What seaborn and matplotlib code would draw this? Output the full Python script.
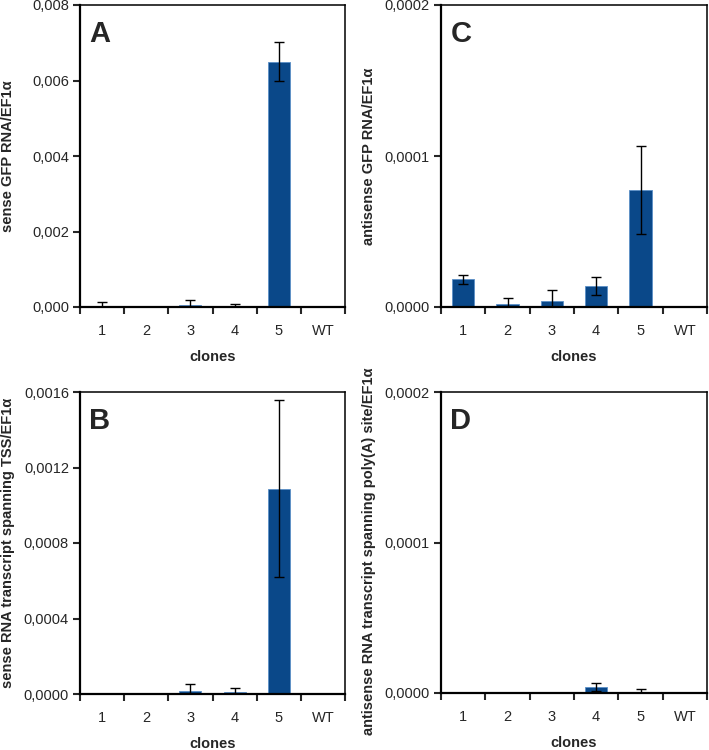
import matplotlib
matplotlib.use("Agg")
import matplotlib.pyplot as plt
from matplotlib.ticker import FixedLocator, FuncFormatter, NullFormatter
import seaborn as sns
import pandas as pd

sns.set_theme(style="white")
plt.rcParams['font.family'] = ['Liberation Sans', 'DejaVu Sans']

clones = ["1", "2", "3", "4", "5", "WT"]

# Panel A: sense GFP RNA / EF1a
a_vals = [0.00003, 0.0, 0.00005, 0.00003, 0.0065, 0.0]
a_err = [0.00009, 0.0, 0.00013, 0.00006, 0.00052, 0.0]
# Panel B: sense RNA transcript spanning TSS / EF1a
b_vals = [0.0, 0.0, 0.000018, 0.000009, 0.001087, 0.0]
b_err = [0.0, 0.0, 0.000033, 0.000025, 0.000468, 0.0]
# Panel C: antisense GFP RNA / EF1a
c_vals = [0.0000183, 0.0000022, 0.0000042, 0.0000139, 0.0000774, 0.0]
c_err = [0.0000032, 0.0000038, 0.0000073, 0.0000059, 0.0000293, 0.0]
# Panel D: antisense RNA transcript spanning poly(A) site / EF1a
d_vals = [0.0, 0.0, 0.0, 0.0000040, 0.0000007, 0.0]
d_err = [0.0, 0.0, 0.0, 0.0000024, 0.0000020, 0.0]

panels = [
    ("A", a_vals, a_err, "sense GFP RNA/EF1α", [0, 0.002, 0.004, 0.006, 0.008], 3),
    ("C", c_vals, c_err, "antisense GFP RNA/EF1α", [0, 0.0001, 0.0002], 4),
    ("B", b_vals, b_err, "sense RNA transcript spanning TSS/EF1α",
     [0, 0.0004, 0.0008, 0.0012, 0.0016], 4),
    ("D", d_vals, d_err, "antisense RNA transcript spanning poly(A) site/EF1α",
     [0, 0.0001, 0.0002], 4),
]

W, H = 709, 750
fig = plt.figure(figsize=(W / 100, H / 100), dpi=100)
boxes = {
    "A": (80, 5, 345, 307),
    "C": (441, 5, 707, 307),
    "B": (80, 392, 345, 694),
    "D": (441, 392, 707, 693),
}
label_y = {"A": 0.5, "C": 0.5, "B": 0.5, "D": 0.47}
color = "#0a4889"
fs = 10.5

for letter, vals, errs, ylabel, yticks, dec in panels:
    x0, y0, x1, y1 = boxes[letter]
    ax = fig.add_axes([x0 / W, 1 - y1 / H, (x1 - x0) / W, (y1 - y0) / H])
    df = pd.DataFrame({"clone": clones, "value": vals})
    sns.barplot(data=df, x="clone", y="value", order=clones, color=color,
                saturation=1, width=0.5, errorbar=None, ax=ax,
                edgecolor="#5b8fc7", linewidth=0.6)
    ax.errorbar(range(len(clones)), vals, yerr=errs, fmt="none", ecolor="black",
                elinewidth=1.0, capsize=3.6, capthick=1.0, zorder=5)
    ax.set_xlim(-0.5, len(clones) - 0.5)
    ax.set_ylim(yticks[0], yticks[-1])
    ax.set_yticks(yticks)
    ax.yaxis.set_major_formatter(FuncFormatter(
        lambda v, p, d=dec: f"{v:.{d}f}".replace(".", ",")))
    # major ticks at category boundaries, labels at centres
    ax.xaxis.set_major_locator(FixedLocator([i - 0.5 for i in range(len(clones) + 1)]))
    ax.xaxis.set_major_formatter(NullFormatter())
    ax.xaxis.set_minor_locator(FixedLocator(list(range(len(clones)))))
    ax.set_xticklabels(clones, minor=True)
    ax.tick_params(axis="x", which="minor", length=0, pad=12, labelsize=fs)
    ax.tick_params(axis="x", which="major", length=5, width=1.5, direction="out",
                   bottom=True)
    ax.tick_params(axis="y", length=5, width=1.5, direction="out", left=True,
                   labelsize=fs, pad=3)
    for s in ["left", "bottom"]:
        ax.spines[s].set_linewidth(1.6)
        ax.spines[s].set_color("black")
    for s in ["top", "right"]:
        ax.spines[s].set_linewidth(1.1)
        ax.spines[s].set_color("black")
    ax.set_xlabel("clones", fontsize=fs, fontweight="bold", labelpad=9)
    ax.set_ylabel(ylabel, fontsize=fs, fontweight="bold")
    ax.yaxis.label.set_va("center")
    ax.yaxis.set_label_coords(-72 / (x1 - x0), label_y[letter])
    ax.text(0.035, 0.95, letter, transform=ax.transAxes, fontsize=21,
            fontweight="bold", va="top", ha="left")

fig.savefig("out.png", dpi=100)
